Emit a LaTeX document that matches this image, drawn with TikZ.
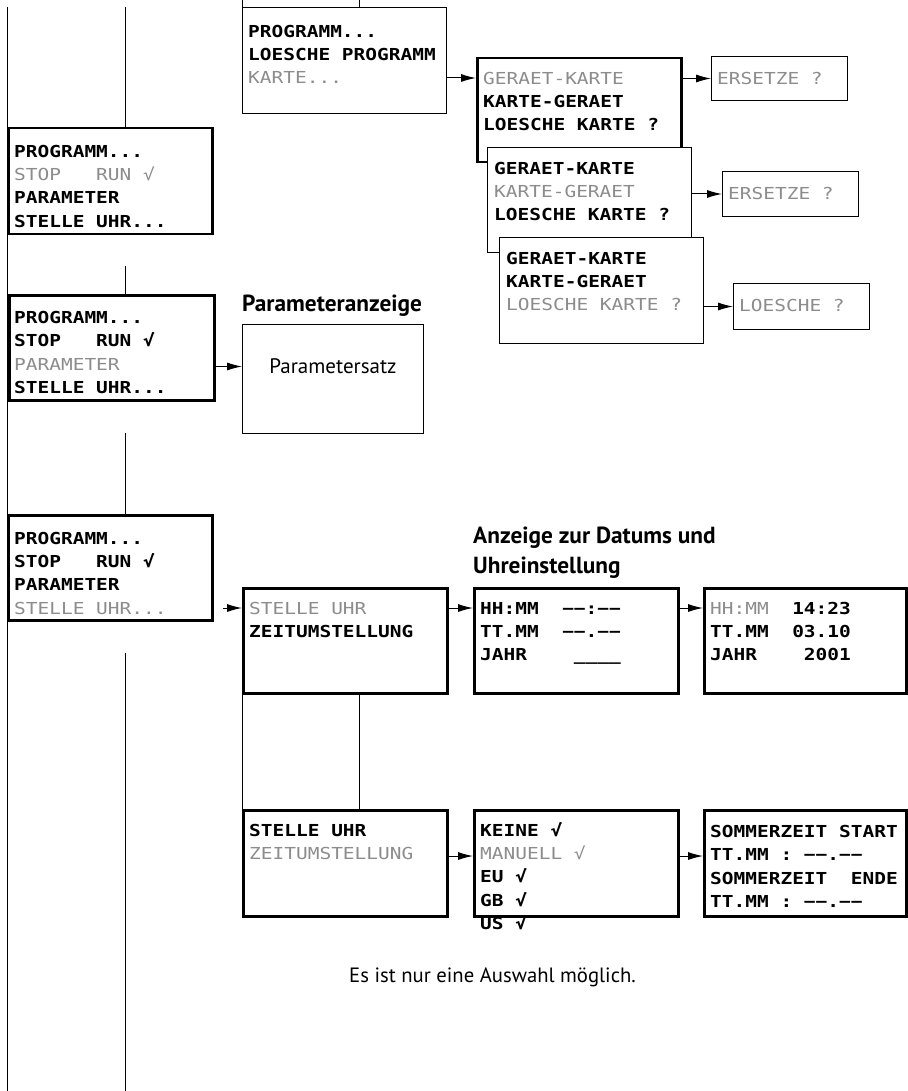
\documentclass[tikz,border=0pt]{standalone}
\usepackage{fontspec}
\setmainfont{PT Sans}
\newfontfamily\lcdfamily[FakeStretch=1.18]{DejaVu Sans Mono}
\usetikzlibrary{arrows.meta,positioning}

\definecolor{lcdgray}{gray}{0.55}
\newcommand{\cursor}[1]{\textcolor{lcdgray}{\mdseries #1}}
\newcommand{\lcdfont}{\fontsize{16.5}{23.4}\selectfont\lcdfamily\bfseries}

\tikzset{
  screen/.style={draw, line width=2.5pt, fill=white, anchor=north west, inner sep=0pt,
    minimum width=204pt, minimum height=106pt},
  thinscreen/.style={screen, line width=1pt},
  lcd/.style={font=\lcdfont, align=left, inner sep=0pt},
  go/.style={-{Latex[length=15pt,width=8pt]}, line width=1pt},
  wire/.style={line width=1pt},
  head/.style={font=\fontsize{23.3}{30}\selectfont\bfseries, align=left, inner sep=0pt}
}

\begin{document}
\begin{tikzpicture}[x=1pt, y=-1pt]
    \useasboundingbox (0,0) rectangle (907,1091);

    % main menu, three times
    \node[screen] (HM1) at (7,127) {};
    \node[lcd, below right=13.6pt and 7pt of HM1.north west] {\strut PROGRAMM...\\\cursor{STOP~~~RUN~√}\\PARAMETER\\STELLE~UHR...};
    \node[screen, minimum width=205pt, minimum height=105pt] (HM2) at (8,294) {};
    \node[lcd, below right=13pt and 6pt of HM2.north west] {\strut PROGRAMM...\\STOP~~~RUN~√\\\cursor{PARAMETER}\\STELLE~UHR...};
    \node[screen, minimum height=105pt] (HM3) at (7,514) {};
    \node[lcd, below right=13.6pt and 7pt of HM3.north west] {\strut PROGRAMM...\\STOP~~~RUN~√\\PARAMETER\\\cursor{STELLE~UHR...}};

    % program / card
    \node[thinscreen] (PRG) at (242,7) {};
    \node[lcd, below right=13.6pt and 6pt of PRG.north west] {\strut PROGRAMM...\\LOESCHE~PROGRAMM\\\cursor{KARTE...}};

    \node[screen, minimum height=104pt] (KG1) at (476,57) {};
    \node[lcd, below right=10.6pt and 7pt of KG1.north west] {\strut \cursor{GERAET-KARTE}\\KARTE-GERAET\\LOESCHE~KARTE~?};
    \node[thinscreen, minimum height=105pt] (KG2) at (487,147) {};
    \node[lcd, below right=10.6pt and 7pt of KG2.north west] {\strut GERAET-KARTE\\\cursor{KARTE-GERAET}\\LOESCHE~KARTE~?};
    \node[thinscreen] (KG3) at (499,237) {};
    \node[lcd, below right=10.6pt and 7pt of KG3.north west] {\strut GERAET-KARTE\\KARTE-GERAET\\\cursor{LOESCHE~KARTE~?}};

    \node[thinscreen, minimum width=136pt, minimum height=44pt] (ER1) at (711,56) {};
    \node[lcd, below right=11.6pt and 6pt of ER1.north west] {\strut\cursor{ERSETZE~?}};
    \node[thinscreen, minimum width=136pt, minimum height=45pt] (ER2) at (722,171) {};
    \node[lcd, below right=11.6pt and 6pt of ER2.north west] {\strut\cursor{ERSETZE~?}};
    \node[thinscreen, minimum width=136pt, minimum height=46pt] (LO) at (733,283) {};
    \node[lcd, below right=11.6pt and 6pt of LO.north west] {\strut\cursor{LOESCHE~?}};

    \draw[go] ([yshift=-21pt]KG1.north west -| PRG.east) -- ([yshift=-21pt]KG1.north west);
    \draw[go] (KG1.east |- ER1) -- (ER1.west);
    \draw[go] (KG2.east |- ER2) -- (ER2.west);
    \draw[go] (KG3.east |- LO) -- (LO.west);

    % parameters
    \node[head, anchor=base west] (PA) at (242,311) {Parameteranzeige};
    \node[thinscreen, minimum width=181pt, minimum height=109pt] (PS) at (242,324) {};
    \node[font=\fontsize{21}{25}\selectfont] (PSL) at ([yshift=12.5pt]PS.center) {Parametersatz};
    \draw[go] (HM2.east |- PSL) -- (PS.west |- PSL);

    % clock
    \node[head, anchor=north west] (DA) at (473,522) {\strut Anzeige zur Datums und\\Uhreinstellung};
    \node[screen, minimum height=105pt] (SU1) at (242,587) {};
    \node[lcd, below right=10.6pt and 7pt of SU1.north west] {\strut\cursor{STELLE~UHR}\\ZEITUMSTELLUNG};
    \node[screen, minimum height=105pt] (HH1) at (473,587) {};
    \node[lcd, below right=10.6pt and 7pt of HH1.north west] {\strut HH:MM~~−−:−−\\TT.MM~~−−.−−\\JAHR~~~~\_\_\_\_};
    \node[screen, minimum width=202pt, minimum height=105pt] (HH2) at (703,587) {};
    \node[lcd, below right=10.6pt and 7pt of HH2.north west] {\strut\cursor{HH:MM}~~14:23\\TT.MM~~03.10\\JAHR~~~~2001};

    \draw[go, shorten <=9pt] ([yshift=-21pt]SU1.north west -| HM3.east) -- ([yshift=-21pt]SU1.north west);
    \draw[go] ([yshift=-21pt]HH1.north west -| SU1.east) -- ([yshift=-21pt]HH1.north west);
    \draw[go] ([yshift=-21pt]HH2.north west -| HH1.east) -- ([yshift=-21pt]HH2.north west);

    % summer time
    \node[screen] (SU2) at (242,809) {};
    \node[lcd, below right=10.6pt and 7pt of SU2.north west] {\strut STELLE~UHR\\\cursor{ZEITUMSTELLUNG}};
    \node[screen] (ZU) at (473,809) {};
    \node[lcd, below right=10.6pt and 7pt of ZU.north west] {\strut KEINE~√\\\cursor{MANUELL~√}\\EU~√\\GB~√\\US~√};
    \node[screen, minimum width=202pt] (SZ) at (703,809) {};
    \node[lcd, below right=12pt and 7pt of SZ.north west] {\strut SOMMERZEIT~START\\TT.MM~:~−−.−−\\SOMMERZEIT~~ENDE\\TT.MM~:~−−.−−};

    \draw[go] ([yshift=-47pt]ZU.north west -| SU2.east) -- ([yshift=-47pt]ZU.north west);
    \draw[go] ([yshift=-47pt]SZ.north west -| ZU.east) -- ([yshift=-47pt]SZ.north west);

    \node[font=\fontsize{20.7}{25}\selectfont, anchor=base west, inner sep=0pt] (NB) at (349,982) {Es ist nur eine Auswahl möglich.};

    % lines
    \coordinate (T0) at (7,7);
    \coordinate (T1) at (7,1091);
    \draw[wire] (T0) -- (T1);
    \coordinate (R0) at (125,7);
    \coordinate (R1) at (125,266);
    \coordinate (R2) at (125,433);
    \coordinate (R3) at (125,653);
    \draw[wire] (R0) -- (R0 |- HM1.north);
    \draw[wire] (R1) -- (R1 |- HM2.north);
    \draw[wire] (R2) -- (R2 |- HM3.north);
    \draw[wire] (R3) -- (R3 |- T1);
    \coordinate (P0) at (242,0);
    \coordinate (P1) at (359,0);
    \draw[wire] (P0) -- (PRG.north west);
    \draw[wire] (P1) -- (P1 |- PRG.north);
    \draw[wire] (SU1.south west) -- (SU2.north west);
    \draw[wire] (SU1.south -| P1) -- (SU2.north -| P1);
\end{tikzpicture}
\end{document}
